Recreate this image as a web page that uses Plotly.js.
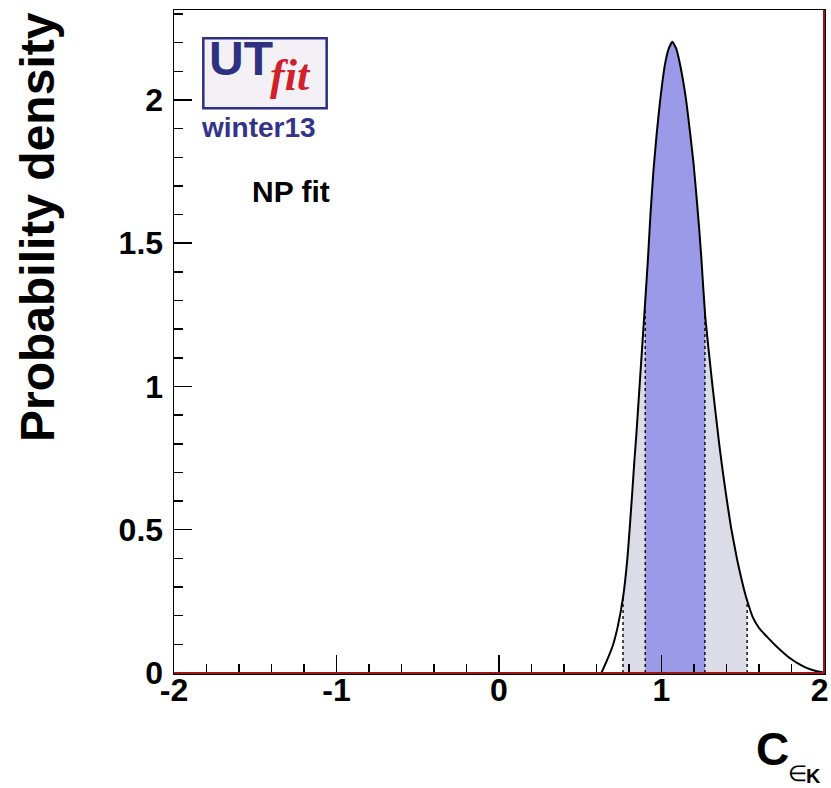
<!DOCTYPE html>
<html><head><meta charset="utf-8">
<script src="https://cdn.plot.ly/plotly-3.0.1.min.js"></script>
<style>html,body{margin:0;padding:0;background:#fff}</style>
</head><body><div id="chart" style="width:831px;height:788px"></div>
<script>
// Posterior density of C_eps_K
const curveX = [0.63, 0.665, 0.70, 0.73, 0.765, 0.79, 0.805, 0.82, 0.833, 0.845, 0.866, 0.893, 0.915, 0.932, 0.95, 0.97, 0.99, 1.02, 1.045, 1.067,
                1.09, 1.112, 1.149, 1.174, 1.197, 1.215, 1.232, 1.245, 1.269, 1.312, 1.355, 1.372, 1.396, 1.427, 1.466, 1.49, 1.513, 1.535, 1.56,
                1.60, 1.65, 1.70, 1.75, 1.80, 1.85, 1.90, 1.95, 2.0];
const curveY = [0.0, 0.045, 0.095, 0.16, 0.27, 0.40, 0.51, 0.63, 0.74, 0.83, 1.01, 1.24, 1.43, 1.60, 1.75, 1.88, 1.99, 2.12, 2.18, 2.203,
                2.18, 2.13, 2.01, 1.895, 1.78, 1.665, 1.55, 1.45, 1.244, 1.011, 0.80, 0.725, 0.627, 0.511, 0.394, 0.333, 0.280, 0.238, 0.197,
                0.157, 0.126, 0.097, 0.071, 0.048, 0.030, 0.016, 0.007, 0.002];
const band68 = [0.90, 1.267];
const band95 = [0.763, 1.527];
const xTickVals = [-2, -1, 0, 1, 2];
const xTickText = ['-2', '-1', '0', '1', '2\u00a0'];
const yTickVals = [0, 0.5, 1, 1.5, 2];
const yTickText = ['0', '0.5', '1', '1.5', '2'];

function interp(x) {
  for (let i = 0; i < curveX.length - 1; i++) {
    if (x >= curveX[i] && x <= curveX[i + 1]) {
      const t = (x - curveX[i]) / (curveX[i + 1] - curveX[i]);
      return curveY[i] + t * (curveY[i + 1] - curveY[i]);
    }
  }
  return 0;
}
function bandTrace(b, color) {
  const xs = [b[0]], ys = [interp(b[0])];
  for (let i = 0; i < curveX.length; i++) {
    if (curveX[i] > b[0] && curveX[i] < b[1]) { xs.push(curveX[i]); ys.push(curveY[i]); }
  }
  xs.push(b[1]); ys.push(interp(b[1]));
  return {x: xs, y: ys, mode: 'lines', fill: 'tozeroy', fillcolor: color, line: {width: 0, color: color}, hoverinfo: 'skip'};
}
function edgeTrace(b) {
  return {x: [b[0], b[0], null, b[1], b[1]], y: [0, interp(b[0]), null, 0, interp(b[1])],
          mode: 'lines', line: {color: '#111', width: 1.5, dash: 'dot'}, hoverinfo: 'skip'};
}

const traces = [
  bandTrace(band95, '#dcdce8'),
  bandTrace(band68, '#9a9ae8'),
  edgeTrace(band95),
  edgeTrace(band68),
  {x: curveX, y: curveY, mode: 'lines', line: {color: '#000', width: 2, shape: 'spline', smoothing: 0.4}}
];

const F = 'Liberation Sans, Arial, sans-serif';
const axisCommon = {
  showgrid: false, zeroline: false, showline: true, mirror: true, linecolor: '#000', linewidth: 1.5,
  ticks: 'inside', ticklen: 18, tickwidth: 1.5, tickcolor: '#000', tickmode: 'array', ticklabeloverflow: 'allow',
  tickfont: {family: F, size: 32, color: '#000', weight: 'bold'}, fixedrange: true
};
const layout = {
  width: 831, height: 788, showlegend: false,
  paper_bgcolor: '#fff', plot_bgcolor: '#fff',
  margin: {l: 174, r: 7, t: 10, b: 115},
  xaxis: Object.assign({}, axisCommon, {range: [-2, 2], tickvals: xTickVals, ticktext: xTickText, ticklabelstandoff: -12,
    minor: {tickmode: 'linear', tick0: -2, dtick: 0.2, ticks: 'inside', ticklen: 9, tickwidth: 1.5, tickcolor: '#000', showgrid: false}}),
  yaxis: Object.assign({}, axisCommon, {range: [0, 2.314], tickvals: yTickVals, ticktext: yTickText, ticklabelstandoff: 3,
    minor: {tickmode: 'linear', tick0: 0, dtick: 0.1, ticks: 'inside', ticklen: 9, tickwidth: 1.5, tickcolor: '#000', showgrid: false}}),
  shapes: [
    {type: 'rect', xref: 'paper', yref: 'paper', x0: 0.0451, x1: 0.2349, y0: 0.8517, y1: 0.9573,
     fillcolor: '#f3f1f6', line: {color: '#2b2f86', width: 2.5}, layer: 'above'},
    {type: 'line', xref: 'paper', yref: 'paper', x0: 0, x1: 1, y0: 0, y1: 0, line: {color: '#9b1515', width: 2}},
    {type: 'line', xref: 'paper', yref: 'paper', x0: 1, x1: 1, y0: 0, y1: 1, line: {color: '#9b1515', width: 2}}
  ],
  annotations: [
    {text: 'Probability density', textangle: -90, xref: 'paper', yref: 'paper', x: -0.2092, y: 0.6727,
     xanchor: 'center', yanchor: 'middle', showarrow: false, font: {family: F, size: 48, color: '#000', weight: 'bold'}},
    {text: 'C', xref: 'paper', yref: 'paper', x: 0.9208, y: -0.1146, xanchor: 'center', yanchor: 'middle', showarrow: false,
     font: {family: F, size: 46, color: '#000', weight: 'bold'}},
    {text: '∈', xref: 'paper', yref: 'paper', x: 0.9590, y: -0.1510, xanchor: 'center', yanchor: 'middle', showarrow: false,
     borderpad: 0, font: {family: F, size: 22, color: '#000'}},
    {text: 'K', xref: 'paper', yref: 'paper', x: 0.9835, y: -0.1550, xanchor: 'center', yanchor: 'middle', showarrow: false,
     borderpad: 0, font: {family: F, size: 20, color: '#000', weight: 'bold'}},
    {text: 'UT', xref: 'paper', yref: 'paper', x: (241 - 174) / 650, y: (673 - 59) / 663, xanchor: 'center', yanchor: 'middle', showarrow: false,
     font: {family: F, size: 48, color: '#2e3180', weight: 'bold'}},
    {text: '<i>fit</i>', xref: 'paper', yref: 'paper', x: (290 - 174) / 650, y: (673 - 76) / 663, xanchor: 'center', yanchor: 'middle', showarrow: false,
     font: {family: 'Liberation Serif, Times New Roman, serif', size: 44, color: '#d0202a', weight: 'bold'}},
    {text: 'winter13', xref: 'paper', yref: 'paper', x: (258.4 - 174) / 650, y: (673 - 127.5) / 663, xanchor: 'center', yanchor: 'middle', showarrow: false,
     font: {family: F, size: 28, color: '#33338a', weight: 'bold'}},
    {text: 'NP fit', xref: 'paper', yref: 'paper', x: (291 - 174) / 650, y: (673 - 191) / 663, xanchor: 'center', yanchor: 'middle', showarrow: false,
     font: {family: F, size: 30, color: '#000', weight: 'bold'}}
  ]
};
Plotly.newPlot('chart', traces, layout, {staticPlot: true, displayModeBar: false});
</script>
</body></html>
